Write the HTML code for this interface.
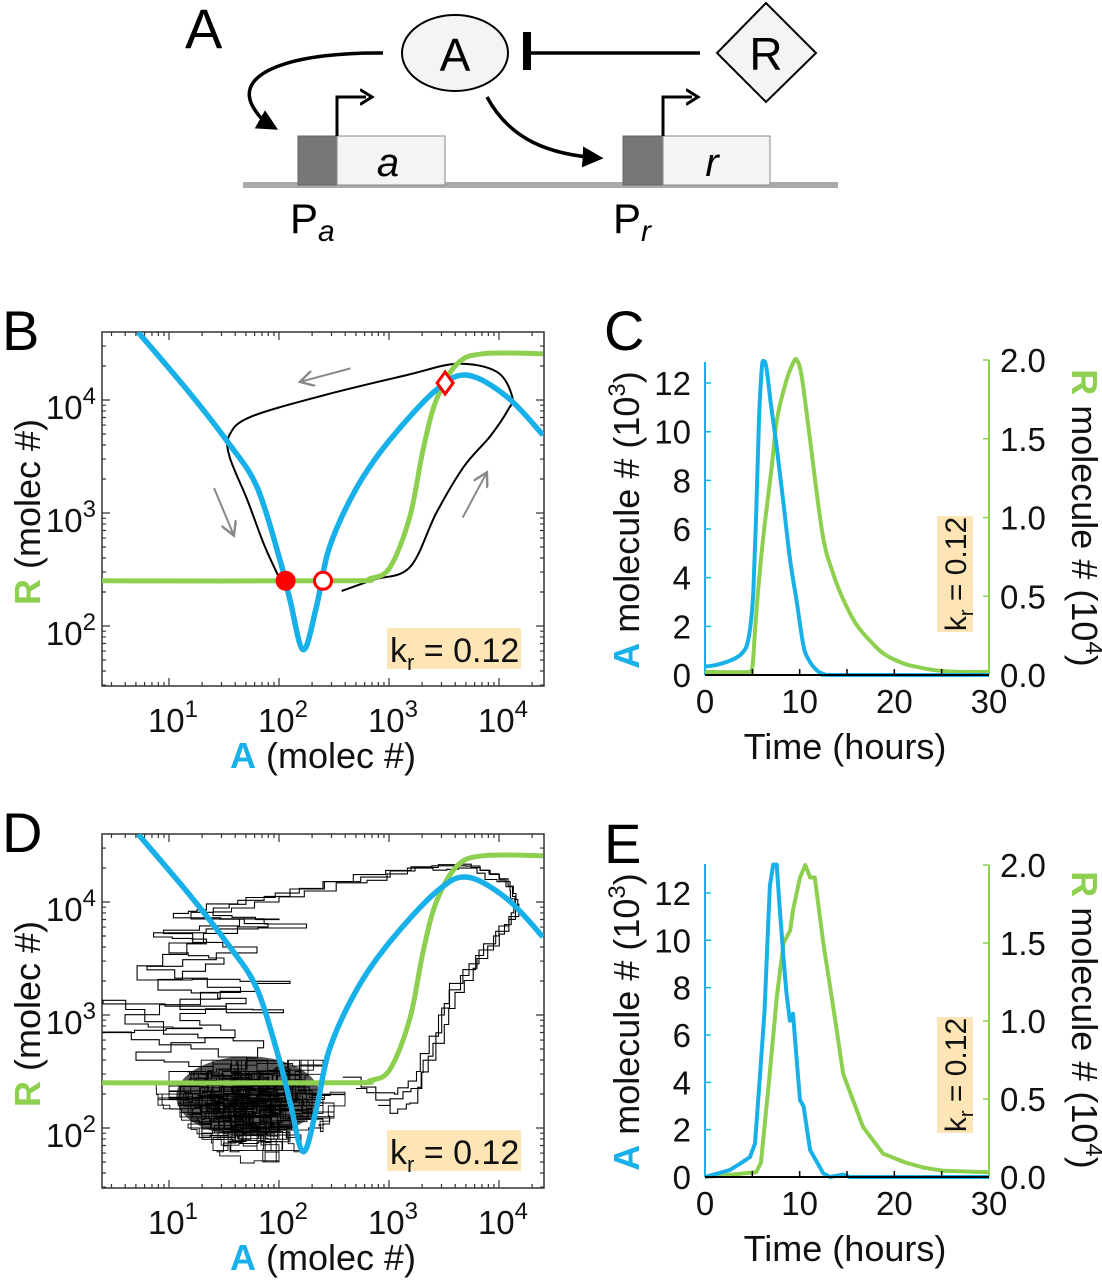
<!DOCTYPE html>
<html><head><meta charset="utf-8"><style>
html,body{margin:0;padding:0;background:#fff;}
svg{display:block;font-family:"Liberation Sans",Arial,sans-serif;}
</style></head><body>
<svg id="fig" width="1102" height="1280" viewBox="0 0 1102 1280" xmlns="http://www.w3.org/2000/svg">
<defs>
<marker id="ah" markerWidth="6" markerHeight="6" refX="5" refY="3" orient="auto" markerUnits="strokeWidth"><path d="M0,0 L6,3 L0,6 z" fill="#000"/></marker>
<marker id="ahg" markerWidth="8" markerHeight="8" refX="7" refY="4" orient="auto" markerUnits="strokeWidth"><path d="M0,0 L7,4 L0,8" fill="none" stroke="#888" stroke-width="1.2"/></marker>
<marker id="aho" markerWidth="6" markerHeight="6" refX="2" refY="3" orient="auto" markerUnits="strokeWidth"><path d="M0,0.5 L4,3 L0,5.5" fill="none" stroke="#000" stroke-width="1"/></marker>
</defs>

<g>
<text x="185" y="48" font-size="56">A</text>
<rect x="243" y="182" width="595" height="6" fill="#aaa"/>
<rect x="298" y="136" width="39" height="49" fill="#777" stroke="#666"/>
<rect x="337" y="136" width="108" height="49" fill="#f4f4f4" stroke="#888"/>
<text x="388" y="176" font-size="40" font-style="italic" text-anchor="middle">a</text>
<rect x="623" y="136" width="40" height="49" fill="#777" stroke="#666"/>
<rect x="663" y="136" width="107" height="49" fill="#f4f4f4" stroke="#888"/>
<text x="712" y="176" font-size="40" font-style="italic" text-anchor="middle">r</text>
<path d="M337,136 V97 H366" fill="none" stroke="#000" stroke-width="3" marker-end="url(#aho)"/>
<path d="M663,136 V97 H692" fill="none" stroke="#000" stroke-width="3" marker-end="url(#aho)"/>
<ellipse cx="455" cy="53" rx="53" ry="38" fill="#f4f4f4" stroke="#000" stroke-width="2"/>
<text x="455" y="71" font-size="46" text-anchor="middle">A</text>
<path d="M766,3 L816,53 L766,102 L717,53 Z" fill="#f4f4f4" stroke="#000" stroke-width="2"/>
<text x="766" y="70" font-size="46" text-anchor="middle">R</text>
<line x1="700" y1="53" x2="530" y2="53" stroke="#000" stroke-width="3.5"/>
<rect x="523" y="32" width="8" height="38" fill="#000"/>
<path d="M383,53 C300,52 235,70 252,105 C260,120 268,124 275,128" fill="none" stroke="#000" stroke-width="3.5" marker-end="url(#ah)"/>
<path d="M487,97 C510,140 550,155 600,158" fill="none" stroke="#000" stroke-width="3.5" marker-end="url(#ah)"/>
<text x="290" y="233" font-size="42">P<tspan font-size="30" font-style="italic" dy="8">a</tspan></text>
<text x="613" y="233" font-size="42">P<tspan font-size="30" font-style="italic" dy="8">r</tspan></text>
</g>

<g id="panels"></g>
</svg>
<script>
// ===== Panel B data (log10 units) =====
const blueNullLx = [0.72,1.19,1.54,1.80,2.01,2.10,2.22,2.34,2.46,2.71,3.01,3.43,3.71,4.07,4.40];
const blueNullLy = [4.60,4.06,3.62,3.23,2.58,2.23,1.79,2.17,2.70,3.23,3.65,4.09,4.22,4.03,3.69];
const greenNullLx = [0.39,2.60,2.83,3.01,3.19,3.31,3.43,3.62,3.86,4.40];
const greenNullLy = [2.40,2.40,2.42,2.52,2.97,3.56,4.00,4.32,4.41,4.41];
const trajBLx = [2.57,2.86,3.19,3.43,3.68,3.92,4.08,4.12,3.98,3.62,3.16,2.40,1.74,1.55,1.55,1.71,1.86,1.99];
const trajBLy = [2.31,2.41,2.52,3.00,3.41,3.68,3.91,4.03,4.25,4.32,4.22,4.04,3.85,3.69,3.50,3.12,2.73,2.45];
const stableLx = 2.06, stableLy = 2.40;
const unstableLx = 2.40, unstableLy = 2.40;
const saddleLx = 3.51, saddleLy = 4.15;
// ===== Panel D stochastic trajectories (log10 units) =====
const loop1Lx = [2.58,3.01,3.19,3.31,3.55,3.86,4.15,4.13,3.92,3.62,3.01,2.10,1.34,1.04,2.25,0.86,1.34,0.71,2.10,1.10,2.04,0.40,0.95,1.86,1.6];
const loop1Ly = [2.45,2.13,2.22,2.60,3.28,3.63,3.93,4.14,4.28,4.33,4.22,4.05,3.93,3.86,3.77,3.69,3.63,3.31,3.28,3.05,3.02,3.13,2.83,2.71,2.4];
const loop2Lx = [2.70,3.05,3.25,3.45,3.65,3.95,4.18,4.10,3.80,3.40,2.80,2.00,1.40,2.00,0.95,1.80,0.80,1.65,0.60,1.30,0.40,1.20,2.0];
const loop2Ly = [2.35,2.30,2.50,3.00,3.35,3.70,3.98,4.18,4.30,4.30,4.17,4.00,3.88,3.85,3.72,3.55,3.40,3.20,2.92,2.88,2.85,2.70,2.55];
const loop3Lx = [2.9,3.2,3.40,3.60,3.80,4.05,4.15,4.00,3.70,3.20,2.40,1.70,1.20,1.90,1.00,1.50,0.90,1.70,1.10,1.60,0.70,1.4];
const loop3Ly = [2.2,2.35,2.75,3.20,3.50,3.80,4.05,4.25,4.32,4.28,4.12,3.98,3.85,3.78,3.55,3.45,3.22,3.10,2.95,2.80,2.60,2.5];
const clusterLx = [1.5,1.9,1.3,2.2,1.7,1.1,2.4,1.6,2.0,1.2,1.8,2.3,1.4,2.1,0.9,1.7,2.5,1.5,1.9,1.3,2.2,1.0,1.6,2.4,1.8,1.2,2.0,1.5,2.3,1.4,1.9,1.1,2.1,1.7,2.6,1.3,1.8,2.2,1.5,1.0,2.0,1.6,2.4,1.2,1.9,1.4,2.1,1.7,2.3,1.5];
const clusterLy = [2.3,2.5,2.1,2.4,1.9,2.2,2.6,2.0,2.3,2.5,1.8,2.2,2.4,2.0,2.3,2.6,2.1,1.9,2.4,2.2,1.8,2.5,2.3,2.0,2.6,2.1,1.9,2.4,2.3,1.8,2.1,2.4,2.5,2.2,2.3,1.9,2.0,2.6,2.2,2.3,1.7,2.5,2.2,2.0,2.3,2.6,1.9,2.4,2.1,2.2];
// ===== Panel C time series =====
const cAt = [0,1,2,3,3.8,4.4,4.8,5.1,5.4,5.7,6.0,6.2,6.5,7,7.6,8.3,9,9.7,10.4,11,11.8,12.5,14,30];
const cA  = [0.35,0.4,0.5,0.65,0.85,1.2,2.0,3.4,6.5,10.5,12.6,12.9,12.6,11,9.3,7,4.7,3.0,1.2,0.6,0.2,0.05,0,0];
const cRt = [0,4.5,5.0,5.3,5.7,6.2,7.0,7.6,8.5,9.3,9.7,10.2,11,12.4,13.5,14.6,16,17.7,19,20.9,22.5,24.4,27,30];
const cR  = [0.02,0.02,0.05,0.3,0.6,0.9,1.3,1.62,1.85,1.98,2.0,1.9,1.54,0.9,0.65,0.48,0.32,0.2,0.13,0.075,0.05,0.03,0.02,0.02];
// ===== Panel E time series =====
const eAt = [0,2.64,3.7,4.75,5.28,5.8,6.3,6.7,6.86,7.2,7.57,7.9,8.3,8.6,8.97,9.3,9.7,10.04,10.4,11.1,12.5,13.2,14.6,15.3,30];
const eA  = [0,0.3,0.56,0.84,1.42,4.24,7.05,10.9,12.3,13.2,13.2,11.3,9.2,7.8,6.6,6.9,4.9,3.25,3.0,1.14,0.15,0,0.1,0,0];
const eRt = [0,1.9,5.4,5.9,6.8,7.6,8.3,9.0,9.3,10.04,10.6,11.1,11.6,12.5,13.6,14.6,16.7,18.8,21.3,23.1,25.2,30];
const eR  = [0,0.01,0.03,0.09,0.64,1.16,1.5,1.58,1.71,1.92,2.0,1.92,1.92,1.5,1.07,0.66,0.32,0.15,0.09,0.06,0.04,0.03];
// ===== Tick labels =====
const logTickExp = [1,2,3,4];
const logYTickExp = [2,3,4];
const timeTicks = [0,10,20,30];
const aTicks = [0,2,4,6,8,10,12];
const rTicks = [0.0,0.5,1.0,1.5,2.0];
const rTickLabels = ["0.0","0.5","1.0","1.5","2.0"];
// fixed zig-zag step pattern (px) used to render stochastic staircases
const stepPattern = [5,-7,3,-4,8,-6,2,-3,6,-8,4,-2,7,-5];

const NS = "http://www.w3.org/2000/svg";
const root = document.getElementById('panels');
const BLUE = "#18b0e8", GREEN = "#8dcf4e";
function el(tag, attrs, parent){ const e=document.createElementNS(NS,tag); for(const k in attrs) e.setAttribute(k,attrs[k]); (parent||root).appendChild(e); return e; }
function smooth(pts){
  let d = "M"+pts[0][0].toFixed(1)+","+pts[0][1].toFixed(1);
  for(let i=0;i<pts.length-1;i++){
    const p0=pts[Math.max(0,i-1)],p1=pts[i],p2=pts[i+1],p3=pts[Math.min(pts.length-1,i+2)];
    const c1=[p1[0]+(p2[0]-p0[0])/6,p1[1]+(p2[1]-p0[1])/6], c2=[p2[0]-(p3[0]-p1[0])/6,p2[1]-(p3[1]-p1[1])/6];
    d+=" C"+c1[0].toFixed(1)+","+c1[1].toFixed(1)+" "+c2[0].toFixed(1)+","+c2[1].toFixed(1)+" "+p2[0].toFixed(1)+","+p2[1].toFixed(1);
  }
  return d;
}
function poly(pts){ return "M"+pts.map(p=>p[0].toFixed(1)+","+p[1].toFixed(1)).join(" L"); }
function zip(xs,ys,fx,fy){ return xs.map((v,i)=>[fx(v),fy(ys[i])]); }
function jagged(pts, n, amp, offset){
  let d="M"+pts[0][0].toFixed(1)+","+pts[0][1].toFixed(1);
  let c=offset||0;
  for(let i=0;i<pts.length-1;i++){
    const p=pts[i],q=pts[i+1];
    for(let k=1;k<=n;k++){
      const jx = k<n ? stepPattern[c%stepPattern.length]*amp : 0; c++;
      const jy = k<n ? stepPattern[c%stepPattern.length]*amp*0.6 : 0; c++;
      const x=p[0]+(q[0]-p[0])*k/n+jx, y=p[1]+(q[1]-p[1])*k/n+jy;
      d+=" H"+x.toFixed(1)+" V"+y.toFixed(1);
    }
  }
  return d;
}

function phasePanel(top, letter, stochastic){
  const L=102,R=544,T=top,B=top+354;
  const sx = lx => 279+(lx-2)*110;
  const sy = ly => (top+294)-(ly-2)*113;
  const g = el('g',{});
  
  
  const clip = el('clipPath',{id:'clip'+letter},g); el('rect',{x:L,y:T,width:R-L,height:B-T},clip);
  const lab = el('text',{x:2,y:top+18,'font-size':56},g); lab.textContent=letter;
  
  
  const frame = el('rect',{x:L,y:T,width:R-L,height:B-T,fill:'none',stroke:'#333','stroke-width':1.5},g);
  
  
  let td="";
  for(let e=0;e<=4;e++) for(let k=1;k<=9;k++){
    const v=e+Math.log10(k); const x=sx(v); if(x<L||x>R) continue;
    const len=k==1?8:4; td+=`M${x},${B}v${-len}M${x},${T}v${len}`;
  }
  for(let e=1;e<=4;e++) for(let k=1;k<=9;k++){
    const v=e+Math.log10(k); const y=sy(v); if(y<T||y>B) continue;
    const len=k==1?8:4; td+=`M${L},${y}h${len}M${R},${y}h${-len}`;
  }
  const ticks = el('path',{d:td,stroke:'#333','stroke-width':1.2,fill:'none'},g);
  
  
  logTickExp.forEach(e=>{
    const t=el('text',{x:sx(e)+4,y:B+46,'font-size':33,'text-anchor':'middle',fill:'#111'},g);
    t.innerHTML='10<tspan dy="-15" font-size="24">'+e+'</tspan>';
    
    
  });
  logYTickExp.forEach(e=>{
    const t=el('text',{x:96,y:sy(e)+19,'font-size':33,'text-anchor':'end',fill:'#111'},g);
    t.innerHTML='10<tspan dy="-15" font-size="24">'+e+'</tspan>';
    
    
  });
  const xt=el('text',{x:323,y:B+82,'font-size':36,'text-anchor':'middle',fill:'#111'},g);
  xt.innerHTML='<tspan fill="'+BLUE+'" font-weight="bold">A</tspan> (molec #)';
  
  
  const yt=el('text',{x:0,y:0,'font-size':36,'text-anchor':'middle',fill:'#111',transform:`translate(40,${top+180}) rotate(-90)`},g);
  yt.innerHTML='<tspan fill="'+GREEN+'" font-weight="bold">R</tspan> (molec #)';
  
  
  const pg = el('g',{'clip-path':`url(#clip${letter})`},g);
  if(stochastic){
    const blob = el('ellipse',{cx:sx(1.72),cy:sy(2.28),rx:72,ry:40,fill:'#111',opacity:0.7},pg);
    
    
    const pts=zip(clusterLx,clusterLy,sx,sy);
    let d=jagged(pts,5,1,0);
    const pts2=pts.map((p,i)=>pts[(i*7+3)%pts.length]);
    d+=" "+jagged(pts2,5,1.2,5);
    const pts3=pts.map((p,i)=>pts[(i*11+5)%pts.length]);
    d+=" "+jagged(pts3,4,1.4,9);
    const cl = el('path',{d:d,stroke:'#000','stroke-width':0.9,fill:'none'},pg);
    
    
    [[loop1Lx,loop1Ly],[loop2Lx,loop2Ly],[loop3Lx,loop3Ly]].forEach((lp,i)=>{
      const p = el('path',{d:jagged(zip(lp[0],lp[1],sx,sy),3,0.5,i*3),stroke:'#000','stroke-width':1.1,fill:'none'},pg);
      
      
    });
  } else {
    const tr = el('path',{d:smooth(zip(trajBLx,trajBLy,sx,sy)),stroke:'#000','stroke-width':2,fill:'none'},pg);
    
    
  }
  const gn = el('path',{d:smooth(zip(greenNullLx,greenNullLy,sx,sy)),stroke:GREEN,'stroke-width':5,fill:'none'},pg);
  
  
  const bn = el('path',{d:smooth(zip(blueNullLx,blueNullLy,sx,sy)),stroke:BLUE,'stroke-width':5.5,fill:'none'},pg);
  
  
  if(!stochastic){
    [[2.65,4.28,2.19,4.16],[1.41,3.22,1.59,2.80],[3.67,2.96,3.89,3.36]].forEach(a=>{
      const ar = el('line',{x1:sx(a[0]),y1:sy(a[1]),x2:sx(a[2]),y2:sy(a[3]),stroke:'#888','stroke-width':2,'marker-end':'url(#ahg)'},g);
      
      
    });
    const s = el('circle',{cx:sx(stableLx),cy:sy(stableLy),r:10,fill:'#f00'},g);
    
    
    const u = el('circle',{cx:sx(unstableLx),cy:sy(unstableLy),r:8.5,fill:'#fff',stroke:'#f00','stroke-width':3},g);
    
    
    const dx=sx(saddleLx), dy=sy(saddleLy);
    const dm = el('path',{d:`M${dx},${dy-11}L${dx+8},${dy}L${dx},${dy+11}L${dx-8},${dy}Z`,fill:'#fff',stroke:'#f00','stroke-width':3},g);
    
    
  }
  const kb = el('rect',{x:387,y:top+296,width:134,height:41,fill:'#fde5b5'},g);
  
  
  const kt = el('text',{x:390,y:top+330,'font-size':34,fill:'#111'},g);
  kt.innerHTML='k<tspan font-size="22" dy="8">r</tspan><tspan dy="-8"> = 0.12</tspan>';
  
  
}

function timePanel(letter, cfg, At, Av, Rt, Rv){
  const L=705,Rr=989, y0=cfg.y0;
  const sx = t => L + t*(Rr-L)/30;
  const sa = a => y0 - a*cfg.aScale;
  const sr = r => y0 - r*cfg.rScale;
  const g = el('g',{});
  
  
  const lab = el('text',{x:604,y:cfg.letterY,'font-size':56},g); lab.textContent=letter;
  
  
  const kb = el('rect',{x:937,y:cfg.kTop,width:36,height:116,fill:'#fde5b5'},g);
  
  
  const kt = el('text',{x:0,y:0,'font-size':30,fill:'#111','text-anchor':'middle',transform:`translate(966,${cfg.kTop+58}) rotate(-90)`},g);
  kt.innerHTML='k<tspan font-size="20" dy="7">r</tspan><tspan dy="-7"> = 0.12</tspan>';
  
  
  const la = el('line',{x1:L,y1:y0,x2:L,y2:cfg.aTop,stroke:BLUE,'stroke-width':2},g);
  
  
  const ra = el('line',{x1:Rr,y1:y0,x2:Rr,y2:sr(2),stroke:GREEN,'stroke-width':2},g);
  
  
  let td="";
  aTicks.forEach(a=>{ td+=`M${L},${sa(a)}h6`; });
  let tdr="";
  rTicks.forEach(r=>{ tdr+=`M${Rr},${sr(r)}h-6`; });
  let tdx="";
  for(let t=5;t<30;t+=5) tdx+=`M${sx(t)},${y0}v-6`;
  const t1=el('path',{d:td,stroke:BLUE,'stroke-width':1.5},g);  
  const t2=el('path',{d:tdr,stroke:GREEN,'stroke-width':1.5},g);  
  aTicks.forEach(a=>{
    const t=el('text',{x:691,y:sa(a)+12,'font-size':33,'text-anchor':'end',fill:'#111'},g); t.textContent=a;
    
    
  });
  rTicks.forEach((r,i)=>{
    const t=el('text',{x:1000,y:sr(r)+12,'font-size':33,fill:'#111'},g); t.textContent=rTickLabels[i];
    
    
  });
  timeTicks.forEach(v=>{
    const t=el('text',{x:sx(v),y:y0+38,'font-size':33,'text-anchor':'middle',fill:'#111'},g); t.textContent=v;
    
    
  });
  const xt=el('text',{x:845,y:y0+84,'font-size':36,'text-anchor':'middle',fill:'#111'},g); xt.textContent='Time (hours)';
  
  
  const yl=el('text',{x:0,y:0,'font-size':36,'text-anchor':'middle',fill:'#111',transform:`translate(639,${y0-155}) rotate(-90)`},g);
  yl.innerHTML='<tspan fill="'+BLUE+'" font-weight="bold">A</tspan> molecule # (10<tspan font-size="24" dy="-14">3</tspan><tspan dy="14">)</tspan>';
  
  
  const yr=el('text',{x:0,y:0,'font-size':36,'text-anchor':'middle',fill:'#111',transform:`translate(1072,${y0-157}) rotate(90)`},g);
  yr.innerHTML='<tspan fill="'+GREEN+'" font-weight="bold">R</tspan> molecule # (10<tspan font-size="24" dy="-14">4</tspan><tspan dy="14">)</tspan>';
  
  
  const gline = el('path',{d:(cfg.noisy?poly:smooth)(zip(Rt,Rv,sx,sr)),stroke:GREEN,'stroke-width':4,fill:'none','stroke-linejoin':'round'},g);
  
  
  const bline = el('path',{d:(cfg.noisy?poly:smooth)(zip(At,Av,sx,sa)),stroke:BLUE,'stroke-width':4,fill:'none','stroke-linejoin':'round'},g);
  
  
  const xa = el('line',{x1:L,y1:y0,x2:Rr,y2:y0,stroke:'#000','stroke-width':2},g);
  
  
  const t3=el('path',{d:tdx,stroke:'#000','stroke-width':1.5},g);  
}

phasePanel(332,'B',false);
phasePanel(834,'D',true);
timePanel('C',{y0:675,aScale:24.33,rScale:157.5,aTop:362,letterY:350,kTop:516,noisy:false},cAt,cA,cRt,cR);
timePanel('E',{y0:1177,aScale:23.67,rScale:156,aTop:864,letterY:863,kTop:1017,noisy:true},eAt,eA,eRt,eR);
</script>
</body></html>
